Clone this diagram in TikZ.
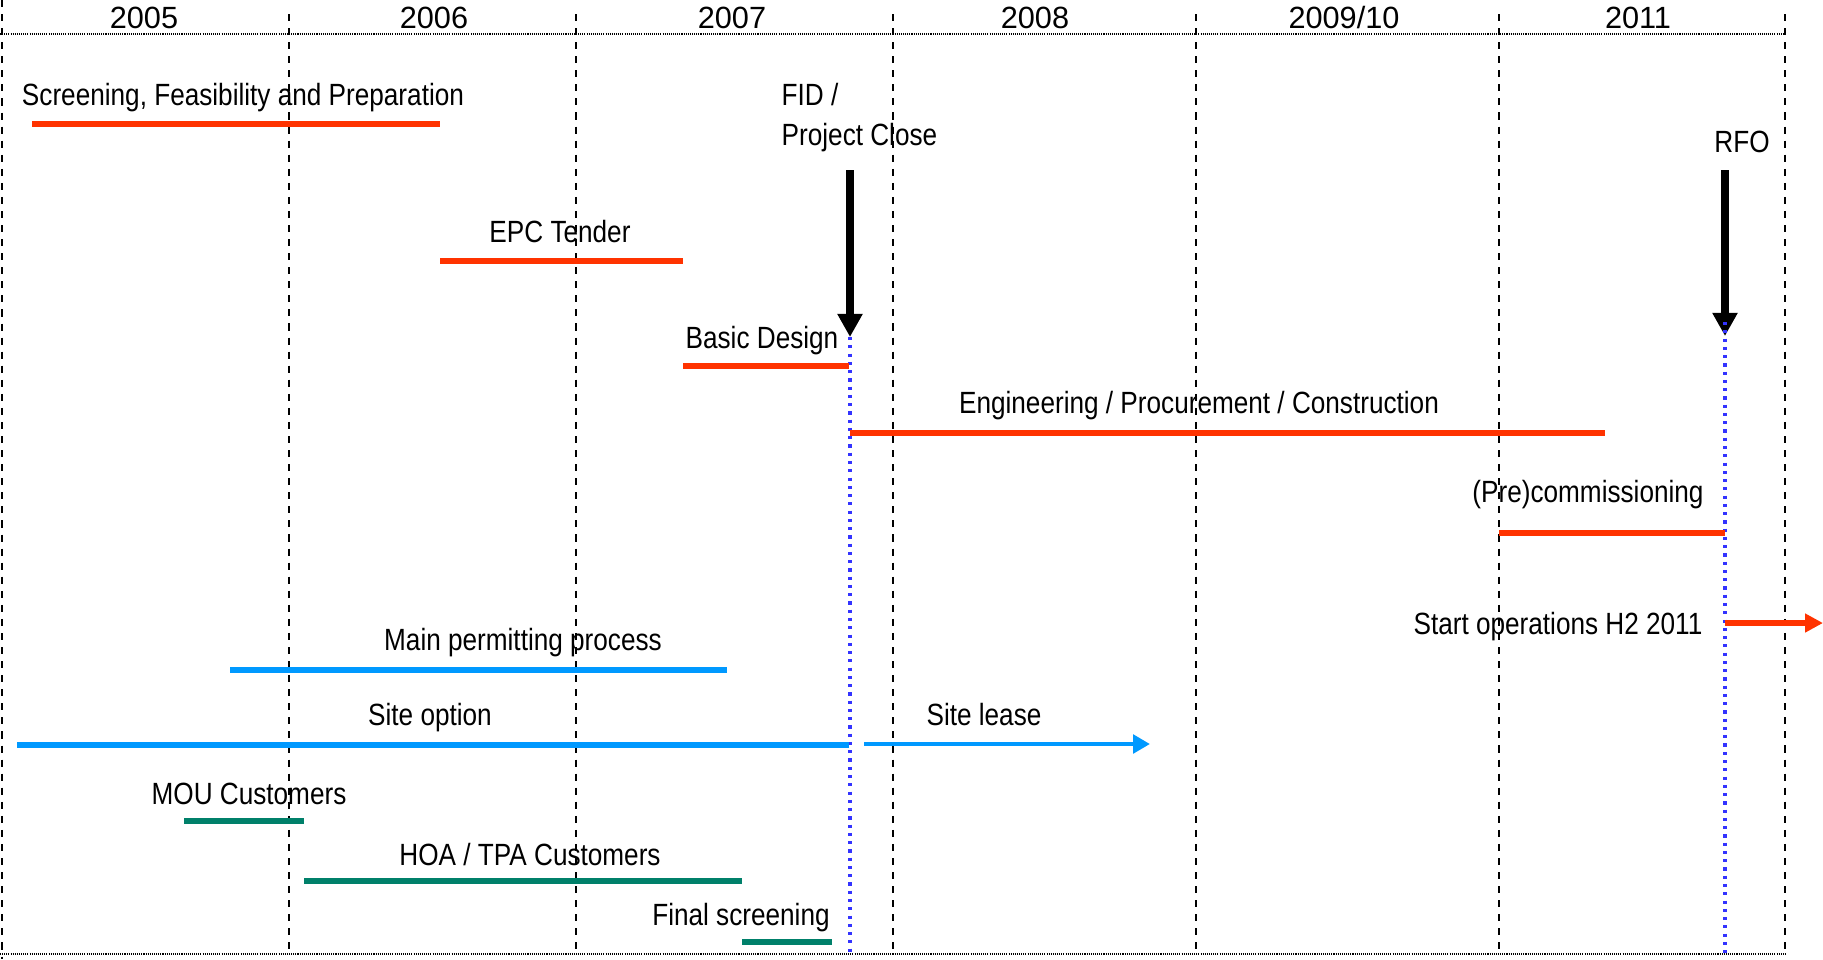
\documentclass[tikz,border=0pt]{standalone}
\usepackage{fontspec}
\setmainfont{Liberation Sans}
\newfontfamily\narrowsans{Liberation Sans}[FakeStretch=0.852]
\usetikzlibrary{arrows.meta}

\definecolor{barred}{RGB}{255,51,0}
\definecolor{barblue}{RGB}{0,153,255}
\definecolor{barteal}{RGB}{0,128,106}
\definecolor{markblue}{RGB}{51,51,255}

\tikzset{
  yearlabel/.style={anchor=base, inner sep=0pt, font=\fontsize{8.73}{11.1}\selectfont},
  tasklabel/.style={anchor=base, inner sep=0pt, font=\fontsize{8.73}{11.1}\selectfont\narrowsans},
  frameline/.style={black, line width=0.55pt, dash pattern=on 0.3pt off 0.3pt},
  yearline/.style={black, line width=0.55pt, dash pattern=on 2pt off 2pt},
  redbar/.style={barred, line width=1.56pt},
  bluebar/.style={barblue, line width=1.56pt},
  tealbar/.style={barteal, line width=1.56pt},
  milestone/.style={black, line width=2.3pt, -{Triangle[length=6.6pt, width=6.8pt]}},
  cutline/.style={markblue, line width=0.9pt, dash pattern=on 0.9pt off 1.45pt}
}

\begin{document}
\begin{tikzpicture}[x=0.01cm, y=-0.01cm]
    \useasboundingbox (0,0) rectangle (1823,959);

    % Frame and year boundaries
    \draw[frameline] (0,34) -- (1785,34);
    \draw[frameline] (0,954) -- (1785,954);
    \draw[yearline] (2,0) -- (2,959);
    \foreach \xb in {289,576,893,1196,1499,1785}
        \draw[yearline] (\xb,14) -- (\xb,954);

    % Year headings
    \node[yearlabel] (y2005) at (144,28) {2005};
    \node[yearlabel] (y2006) at (434,28) {2006};
    \node[yearlabel] (y2007) at (732,28) {2007};
    \node[yearlabel] (y2008) at (1035,28) {2008};
    \node[yearlabel] (y2009) at (1344,28) {2009/10};
    \node[yearlabel] (y2011) at (1638,28) {2011};

    % Milestones
    \node[tasklabel, anchor=base west, align=left] (fid) at (781,145) {FID /\\Project Close};
    \node[tasklabel] (rfo) at (1742,152) {RFO};
    \coordinate (fidtip) at (850,337);
    \coordinate (rfotip) at (1725,336);
    \draw[milestone] (850,170) -- (fidtip);
    \draw[milestone] (1725,170) -- (rfotip);
    \draw[cutline] (fidtip) -- (850,955);
    \draw[cutline] (1725,322) -- (1725,955);

    % Project phases (red)
    \node[tasklabel] (screening) at (243,105) {Screening, Feasibility and Preparation};
    \draw[redbar] (32,124) -- (440,124);
    \node[tasklabel] (epc) at (560,242) {EPC Tender};
    \draw[redbar] (440,261) -- (683,261);
    \node[tasklabel] (basic) at (762,348) {Basic Design};
    \draw[redbar] (683,366) -- (849,366);
    \node[tasklabel] (construction) at (1199,413) {Engineering / Procurement / Construction};
    \draw[redbar] (850,433) -- (1605,433);
    \node[tasklabel] (commissioning) at (1588,502) {(Pre)commissioning};
    \draw[redbar] (1499,533) -- (1725,533);
    \node[tasklabel] (startop) at (1558,634) {Start operations H2 2011};
    \draw[barred, line width=1.45pt, -{Triangle[length=5.1pt, width=5.1pt]}] (1725,623) -- (1823,623);

    % Permits and site (blue)
    \node[tasklabel] (permit) at (523,650) {Main permitting process};
    \draw[bluebar] (230,670) -- (727,670);
    \node[tasklabel] (option) at (430,725) {Site option};
    \draw[bluebar] (17,745) -- (849,745);
    \node[tasklabel] (lease) at (984,725) {Site lease};
    \draw[barblue, line width=1.3pt, -{Triangle[length=4.8pt, width=5.2pt]}] (864,744) -- (1150,744);

    % Customers (teal)
    \node[tasklabel] (mou) at (249,804) {MOU Customers};
    \draw[tealbar] (184,821) -- (304,821);
    \node[tasklabel] (hoa) at (530,865) {HOA / TPA Customers};
    \draw[tealbar] (304,881) -- (742,881);
    \node[tasklabel] (final) at (741,925) {Final screening};
    \draw[tealbar] (742,942) -- (832,942);
\end{tikzpicture}
\end{document}
